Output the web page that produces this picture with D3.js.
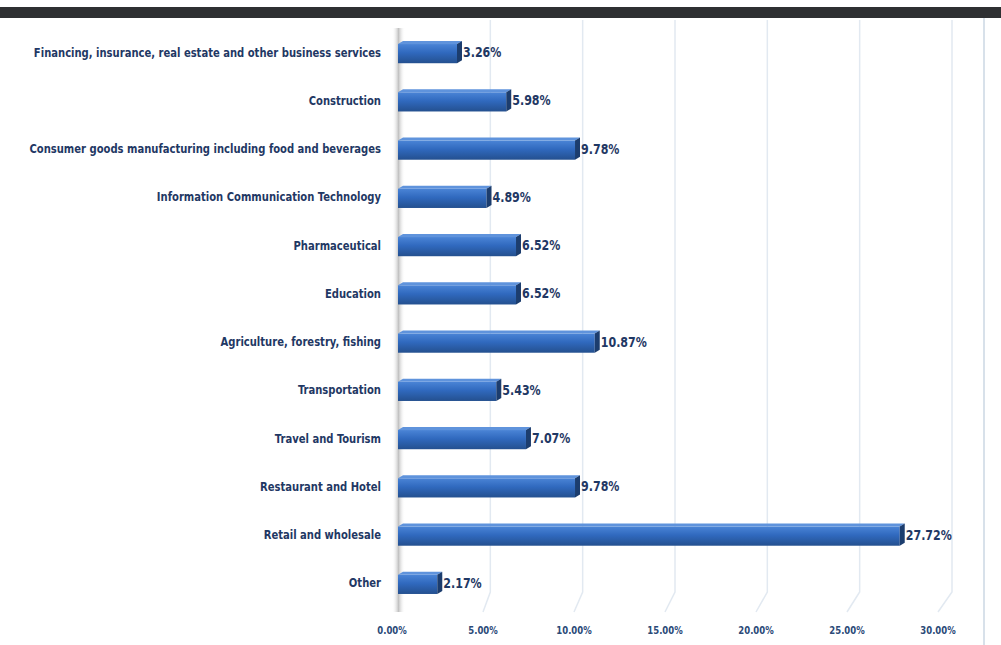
<!DOCTYPE html>
<html>
<head>
<meta charset="utf-8">
<script src="https://cdn.jsdelivr.net/npm/d3@7"></script>
<style>
  html, body { margin: 0; padding: 0; background: #fff; }
  svg { display: block; }
</style>
</head>
<body>
<svg id="chart" width="1001" height="645"></svg>
<script>
// categories top -> bottom, values in percent
var categories = [
  'Financing, insurance, real estate and other business services',
  'Construction',
  'Consumer goods manufacturing including food and beverages',
  'Information Communication Technology',
  'Pharmaceutical',
  'Education',
  'Agriculture, forestry, fishing',
  'Transportation',
  'Travel and Tourism',
  'Restaurant and Hotel',
  'Retail and wholesale',
  'Other'
];
var values = [3.26, 5.98, 9.78, 4.89, 6.52, 6.52, 10.87, 5.43, 7.07, 9.78, 27.72, 2.17];
var tickValues = [0, 5, 10, 15, 20, 25, 30];

var svg = d3.select('#chart');
var W = 1001, H = 645;
var navy = '#1f3864';
var font = '"DejaVu Sans Condensed", "Liberation Sans Narrow", sans-serif';

// three scales: back wall, bars (mid depth), floor front edge
var xBack = d3.scaleLinear().domain([0, 30]).range([398, 952]);
var xBar = d3.scaleLinear().domain([0, 30]).range([398, 941]);
var xFloor = d3.scaleLinear().domain([0, 30]).range([392, 938]);
var y = d3.scaleBand().domain(categories).range([28, 607]).paddingInner(0.54).paddingOuter(0.27);

var gridTop = 20, gridBottom = 592, floorY = 612;

// dark top band
svg.append('rect').attr('x', 0).attr('y', 7).attr('width', W).attr('height', 11).attr('fill', '#2e3032');
// right border
svg.append('line').attr('x1', 984).attr('x2', 984).attr('y1', 18).attr('y2', H)
  .attr('stroke', '#d8e1ea').attr('stroke-width', 2);

var defs = svg.append('defs');
var gFront = defs.append('linearGradient').attr('id', 'front').attr('x1', 0).attr('x2', 0).attr('y1', 0).attr('y2', 1);
gFront.append('stop').attr('offset', '0%').attr('stop-color', '#4a84d6');
gFront.append('stop').attr('offset', '45%').attr('stop-color', '#3069be');
gFront.append('stop').attr('offset', '100%').attr('stop-color', '#24508f');
var gWall = defs.append('linearGradient').attr('id', 'wall').attr('x1', 0).attr('x2', 1).attr('y1', 0).attr('y2', 0);
gWall.append('stop').attr('offset', '0%').attr('stop-color', '#ffffff').attr('stop-opacity', 0);
gWall.append('stop').attr('offset', '50%').attr('stop-color', '#9a9a9a').attr('stop-opacity', 0.6);
gWall.append('stop').attr('offset', '100%').attr('stop-color', '#ffffff').attr('stop-opacity', 0);

// grid lines on back wall + floor
var grid = svg.append('g').attr('class', 'grid');
grid.selectAll('path').data(tickValues.slice(1)).enter().append('path')
  .attr('d', function(d) {
    return 'M' + xBack(d) + ',' + gridTop + 'V' + gridBottom + 'L' + xFloor(d) + ',' + floorY;
  })
  .attr('fill', 'none').attr('stroke', '#e2e9f1').attr('stroke-width', 1.5);

// left wall (seen edge on)
svg.append('rect').attr('x', 392).attr('y', 28).attr('width', 13).attr('height', floorY - 28)
  .attr('fill', 'url(#wall)');

// bars
var depth = 5, rise = 3;
var bars = svg.append('g').selectAll('g.bar').data(values).enter().append('g').attr('class', 'bar');
bars.each(function(d, i) {
  var g = d3.select(this);
  var x0 = xBar(0), x1 = xBar(d);
  var top = y(categories[i]) + rise, bot = y(categories[i]) + y.bandwidth();
  g.append('rect').attr('x', x0).attr('y', top).attr('width', x1 - x0).attr('height', bot - top)
    .attr('fill', 'url(#front)');
  g.append('path')
    .attr('d', 'M' + x0 + ',' + top + 'L' + (x0 + depth) + ',' + (top - rise) + 'H' + (x1 + depth) + 'L' + x1 + ',' + top + 'Z')
    .attr('fill', '#5f93dc');
  g.append('path')
    .attr('d', 'M' + x1 + ',' + top + 'L' + (x1 + depth) + ',' + (top - rise) + 'V' + (bot - rise) + 'L' + x1 + ',' + bot + 'Z')
    .attr('fill', '#1c3d6e');
});

// value labels (squeezed to match the narrow original face)
svg.append('g').selectAll('text').data(values).enter().append('text')
  .attr('transform', function(d, i) {
    return 'translate(' + (xBar(d) + depth + 1) + ',' + (y(categories[i]) + y.bandwidth() / 2 + 5) + ') scale(0.88,1)';
  })
  .attr('font-family', font).attr('font-weight', 'bold').attr('font-size', 14)
  .attr('fill', navy)
  .text(function(d) { return d.toFixed(2) + '%'; });

// category labels
svg.append('g').selectAll('text').data(categories).enter().append('text')
  .attr('transform', function(d) {
    return 'translate(381,' + (y(d) + y.bandwidth() / 2 + 4.5) + ') scale(0.89,1)';
  })
  .attr('text-anchor', 'end')
  .attr('font-family', font).attr('font-weight', 'bold').attr('font-size', 12.5)
  .attr('fill', navy)
  .text(function(d) { return d; });

// x tick labels
svg.append('g').selectAll('text').data(tickValues).enter().append('text')
  .attr('transform', function(d) { return 'translate(' + xFloor(d) + ',634) scale(0.86,1)'; })
  .attr('text-anchor', 'middle')
  .attr('font-family', font).attr('font-weight', 'bold').attr('font-size', 11)
  .attr('fill', '#2b4a78')
  .text(function(d) { return d.toFixed(2) + '%'; });
</script>
</body>
</html>
